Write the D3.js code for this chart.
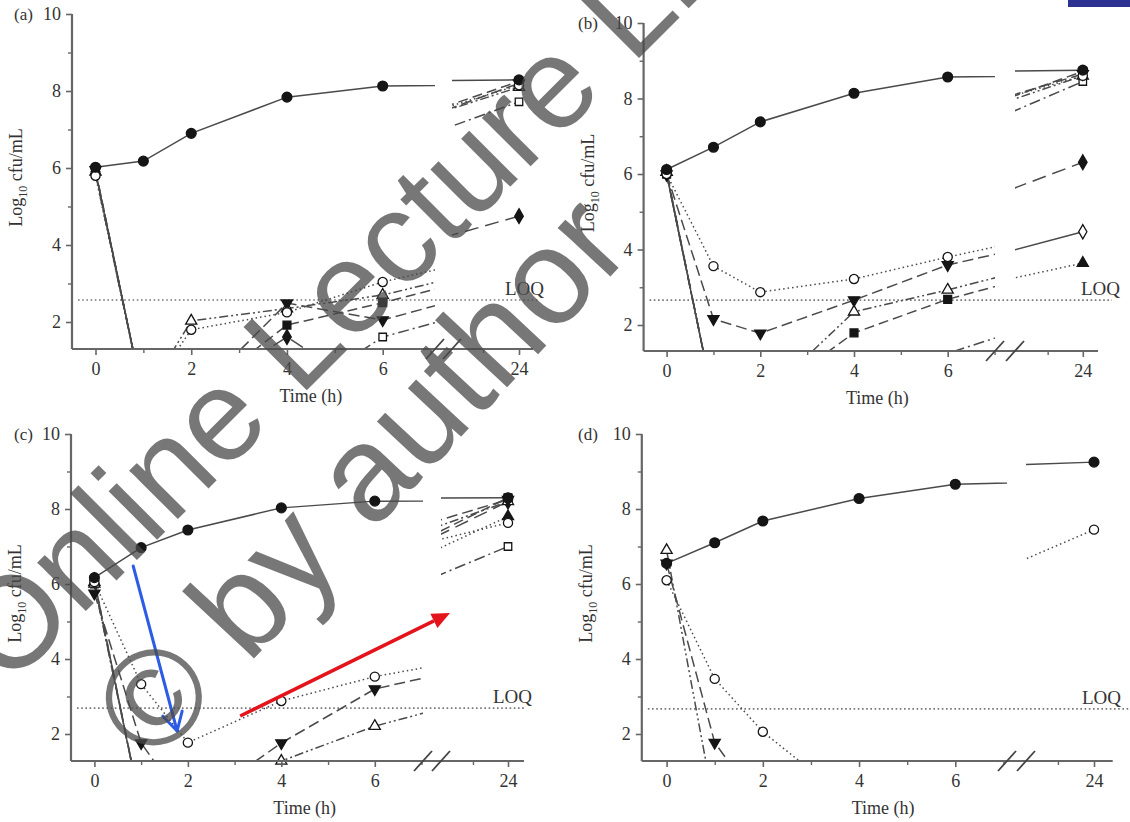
<!DOCTYPE html>
<html>
<head>
<meta charset="utf-8">
<script src="https://cdn.jsdelivr.net/npm/d3@7"></script>
<style>
  html, body { margin: 0; padding: 0; background: #fff; }
  svg { display: block; }
</style>
</head>
<body>
<svg id="chart" width="1130" height="822"></svg>
<script>
// Sampling times (h) and axis ticks
const hours = [0, 1, 2, 4, 6, 24];
const xTickHours = [0, 2, 4, 6];
const xTickHoursLate = [24];
const xMinorHours = [1, 3, 5, 7];
const xMinorHoursLate = [23];
const yTickValues = [2, 4, 6, 8, 10];
const yMinorValues = [3, 5, 7, 9];
const panelLabels = ["(a)", "(b)", "(c)", "(d)"];
const loqValues = [2.57, 2.66, 2.69, 2.67];

// Viable counts, log10 cfu/mL at each sampling time (0 = no count, below the plotted range)
// Panel (a)
const aGrowth      = [6.02, 6.18, 6.9, 7.84, 8.13, 8.29];
const aOpenCircle  = [5.8, 0, 1.8, 2.25, 3.04, 8.15];
const aDownTri     = [5.95, 0, 0, 2.49, 2.05, 8.2];
const aOpenTri     = [5.9, 0, 2.03, 2.35, 2.7, 8.1];
const aSquare      = [5.95, 0, 0, 1.92, 2.5, 8.25];
const aOpenSquare  = [5.85, 0, 0, 0, 1.61, 7.72];
const aDiamond     = [5.9, 0, 0, 1.61, 0, 4.75];
const aOpenDiamond = [5.9, 0, 0, 0, 0, 0];
// Panel (b)
const bGrowth      = [6.12, 6.71, 7.38, 8.14, 8.57, 8.75];
const bOpenCircle  = [6.0, 3.56, 2.87, 3.22, 3.8, 8.6];
const bDownTri     = [6.0, 2.16, 1.78, 2.66, 3.59, 8.65];
const bOpenTri     = [6.05, 0, 0, 2.35, 2.93, 8.6];
const bSquare      = [6.0, 0, 0, 1.79, 2.68, 8.72];
const bOpenSquare  = [6.0, 0, 0, 0, 1.25, 8.45];
const bDiamond     = [6.05, 0, 0, 0, 0, 6.31];
const bOpenDiamond = [6.0, 0, 0, 0, 0, 4.47];
const bUpTri       = [6.05, 0, 0, 0, 0, 3.64];
// Panel (c)
const cGrowth      = [6.17, 6.97, 7.44, 8.03, 8.21, 8.3];
const cOpenCircle  = [6.05, 3.33, 1.77, 2.88, 3.53, 7.63];
const cDownTri     = [5.75, 1.76, 0, 1.76, 3.2, 8.25];
const cOpenTri     = [6.0, 0, 0, 1.28, 2.21, 8.2];
const cSquare      = [6.1, 0, 0, 0, 0, 8.3];
const cOpenSquare  = [6.0, 0, 0, 0, 0, 7.0];
const cDiamond     = [6.1, 0, 0, 0, 0, 8.2];
const cUpTri       = [6.05, 0, 0, 0, 0, 7.8];
// Panel (d)
const dGrowth      = [6.55, 7.1, 7.68, 8.28, 8.66, 9.25];
const dOpenCircle  = [6.1, 3.47, 2.06, 0, 0, 7.45];
const dDownTri     = [6.55, 1.77, 0, 0, 0, 0];
const dOpenTri     = [6.9, 0, 0, 0, 0, 0];

// Which regimens appear in each panel
const panelSeries = [
  { growth: aGrowth, openCircle: aOpenCircle, downTri: aDownTri, openTri: aOpenTri, square: aSquare,
    openSquare: aOpenSquare, diamond: aDiamond, openDiamond: aOpenDiamond },
  { growth: bGrowth, openCircle: bOpenCircle, downTri: bDownTri, openTri: bOpenTri, square: bSquare,
    openSquare: bOpenSquare, diamond: bDiamond, openDiamond: bOpenDiamond, upTri: bUpTri },
  { growth: cGrowth, openCircle: cOpenCircle, downTri: cDownTri, openTri: cOpenTri, square: cSquare,
    openSquare: cOpenSquare, diamond: cDiamond, upTri: cUpTri },
  { growth: dGrowth, openCircle: dOpenCircle, downTri: dDownTri, openTri: dOpenTri }
];

// Marker and line style per regimen
const styles = {
  growth:      { shape: d3.symbolCircle,   size: 76, filled: true,  rot: 0,   dash: null },
  openCircle:  { shape: d3.symbolCircle,   size: 66, filled: false, rot: 0,   dash: "1.5,3" },
  downTri:     { shape: d3.symbolTriangle, size: 54, filled: true,  rot: 180, dash: "11,5" },
  openTri:     { shape: d3.symbolTriangle, size: 54, filled: false, rot: 0,   dash: "9,3,2,3,2,3" },
  square:      { shape: d3.symbolSquare,   size: 62, filled: true,  rot: 0,   dash: "10,5" },
  openSquare:  { shape: d3.symbolSquare,   size: 56, filled: false, rot: 0,   dash: "11,4,2,4" },
  diamond:     { shape: d3.symbolDiamond,  size: 64, filled: true,  rot: 0,   dash: "14,7" },
  openDiamond: { shape: d3.symbolDiamond,  size: 58, filled: false, rot: 0,   dash: null },
  upTri:       { shape: d3.symbolTriangle, size: 54, filled: true,  rot: 0,   dash: "1.5,3" }
};

// Panel frames (pixel geometry of each broken time axis)
const layout = [
  { axisX: 72,  x0: 95.5,  x6: 382.7, x24: 519,  seg1End: 435,  seg2Start: 452,  axisEnd: 533,
    y10: 14,  y2: 322, yBottom: 349, letterX: 14,  loqEnd: 540,  loqTextX: 505 },
  { axisX: 643.6, x0: 666.6, x6: 947.7, x24: 1082.8, seg1End: 995, seg2Start: 1015, axisEnd: 1098,
    y10: 23,  y2: 325, yBottom: 351, letterX: 578, loqEnd: 1112, loqTextX: 1081 },
  { axisX: 71,  x0: 94.4,  x6: 374.8, x24: 508,  seg1End: 423,  seg2Start: 441,  axisEnd: 524,
    y10: 434, y2: 734, yBottom: 761, letterX: 14,  loqEnd: 526,  loqTextX: 493 },
  { axisX: 641.8, x0: 666.6, x6: 955.3, x24: 1094, seg1End: 1007, seg2Start: 1026, axisEnd: 1112.7,
    y10: 434, y2: 734, yBottom: 761, letterX: 578, loqEnd: 1130, loqTextX: 1082 }
];

const serif = "'Liberation Serif', 'Times New Roman', Times, serif";
const axisColor = "#666";
const lineColor = "#4a4a4a";
const markColor = "#151515";

const svg = d3.select("#chart");
const defs = svg.append("defs");

const panelScales = [];

layout.forEach((L, i) => {
  const g = svg.append("g").attr("class", "panel");
  const y = d3.scaleLinear().domain([2, 10]).range([L.y2, L.y10]);
  const yMin = y.invert(L.yBottom);
  const x1 = d3.scaleLinear().domain([0, 6]).range([L.x0, L.x6]);
  const pxPerHourLate = (L.x6 - L.x0) / 6 * 0.75;
  const x2 = d3.scaleLinear().domain([23, 24]).range([L.x24 - pxPerHourLate, L.x24]);
  panelScales.push({ x1, x2, y });

  // clip regions for the two parts of the broken time axis
  const c1 = "clip-early-" + i, c2 = "clip-late-" + i;
  defs.append("clipPath").attr("id", c1).append("rect")
    .attr("x", L.axisX).attr("y", 0).attr("width", L.seg1End - L.axisX).attr("height", L.yBottom);
  defs.append("clipPath").attr("id", c2).append("rect")
    .attr("x", L.seg2Start).attr("y", 0).attr("width", L.axisEnd + 10 - L.seg2Start).attr("height", L.yBottom);

  // limit of quantification
  g.append("line")
    .attr("x1", L.axisX + 6).attr("x2", L.loqEnd)
    .attr("y1", y(loqValues[i])).attr("y2", y(loqValues[i]))
    .attr("stroke", "#777").attr("stroke-width", 1.6).attr("stroke-dasharray", "1.6,2.6");
  g.append("text")
    .attr("x", L.loqTextX).attr("y", y(loqValues[i]) - 5)
    .attr("font-family", serif).attr("font-size", 19).attr("fill", "#333")
    .text("LOQ");

  const series = Object.entries(panelSeries[i]).map(([key, vals]) => ({
    key, style: styles[key], points: hours.map((t, k) => ({ t, v: vals[k] }))
  }));

  // lines, drawn on each side of the axis break
  const lineEarly = d3.line().x(d => x1(d.t)).y(d => y(d.v));
  const lineLate = d3.line().x(d => x2(d.t)).y(d => y(d.v));
  [[lineEarly, c1], [lineLate, c2]].forEach(([gen, clip]) => {
    g.append("g").attr("clip-path", `url(#${clip})`)
      .selectAll("path").data(series.slice().reverse()).join("path")
      .attr("d", s => gen(s.points))
      .attr("fill", "none")
      .attr("stroke", lineColor)
      .attr("stroke-width", 1.5)
      .attr("stroke-dasharray", s => s.style.dash);
  });

  // markers (only counts inside the plotted range)
  const markG = g.append("g");
  series.slice().reverse().forEach(s => {
    const sym = d3.symbol().type(s.style.shape).size(s.style.size);
    markG.selectAll(null)
      .data(s.points.filter(p => p.v >= yMin))
      .join("path")
      .attr("d", sym)
      .attr("transform", p => {
        const px = p.t <= 7 ? x1(p.t) : x2(p.t);
        return `translate(${px},${y(p.v)}) rotate(${s.style.rot})`;
      })
      .attr("fill", s.style.filled ? markColor : "#fff")
      .attr("stroke", markColor)
      .attr("stroke-width", 1.3);
  });

  // y axis
  const yAxis = g.append("g").attr("transform", `translate(${L.axisX},0)`)
    .call(d3.axisLeft(y).tickValues(yTickValues).tickSize(6).tickPadding(5).tickFormat(d3.format("d")));
  yAxis.select(".domain").remove();
  yAxis.selectAll(".tick line").attr("stroke", axisColor).attr("stroke-width", 1.6);
  yAxis.selectAll(".tick text").attr("font-family", serif).attr("font-size", 18).attr("fill", "#333");
  const yMinorAxis = g.append("g").attr("transform", `translate(${L.axisX},0)`)
    .call(d3.axisLeft(y).tickValues(yMinorValues).tickSize(4).tickFormat(""));
  yMinorAxis.select(".domain").remove();
  yMinorAxis.selectAll(".tick line").attr("stroke", axisColor).attr("stroke-width", 1.4);

  // x axis, both sides of the break
  [[x1, xTickHours, xMinorHours], [x2, xTickHoursLate, xMinorHoursLate]].forEach(([xs, major, minor]) => {
    const ax = g.append("g").attr("transform", `translate(0,${L.yBottom})`)
      .call(d3.axisBottom(xs).tickValues(major).tickSize(6).tickPadding(7).tickFormat(d3.format("d")));
    ax.select(".domain").remove();
    ax.selectAll(".tick line").attr("stroke", axisColor).attr("stroke-width", 1.6);
    ax.selectAll(".tick text").attr("font-family", serif).attr("font-size", 18).attr("fill", "#333");
    const mx = g.append("g").attr("transform", `translate(0,${L.yBottom})`)
      .call(d3.axisBottom(xs).tickValues(minor).tickSize(4).tickFormat(""));
    mx.select(".domain").remove();
    mx.selectAll(".tick line").attr("stroke", axisColor).attr("stroke-width", 1.4);
  });

  // axis lines
  g.append("line").attr("x1", L.axisX).attr("x2", L.axisX).attr("y1", L.y10).attr("y2", L.yBottom)
    .attr("stroke", axisColor).attr("stroke-width", 2.2);
  g.append("line").attr("x1", L.axisX).attr("x2", L.axisEnd).attr("y1", L.yBottom).attr("y2", L.yBottom)
    .attr("stroke", axisColor).attr("stroke-width", 2.2);

  // break marks
  [L.seg1End, L.seg2Start].forEach(bx => {
    g.append("line")
      .attr("x1", bx - 9).attr("y1", L.yBottom + 10)
      .attr("x2", bx + 9).attr("y2", L.yBottom - 10)
      .attr("stroke", "#444").attr("stroke-width", 1.8);
  });

  // titles
  g.append("text")
    .attr("x", x1(4.5)).attr("y", L.yBottom + 53)
    .attr("text-anchor", "middle")
    .attr("font-family", serif).attr("font-size", 18).attr("fill", "#333")
    .text("Time (h)");

  const yl = g.append("text")
    .attr("transform", `translate(${L.axisX - 50},${(L.y10 + L.yBottom) / 2 - 4}) rotate(-90)`)
    .attr("text-anchor", "middle")
    .attr("font-family", serif).attr("font-size", 18).attr("fill", "#333");
  yl.append("tspan").text("Log");
  yl.append("tspan").attr("font-size", 12).attr("dy", 5).text("10");
  yl.append("tspan").attr("dy", -5).text(" cfu/mL");

  g.append("text")
    .attr("x", L.letterX).attr("y", L.y10 + 6)
    .attr("font-family", serif).attr("font-size", 17).attr("fill", "#333")
    .text(panelLabels[i]);
});

// Annotation arrows on panel (c)
const pc = panelScales[2];
const blueFrom = [pc.x1(0.83), pc.y(6.48)], blueTo = [pc.x1(1.77), pc.y(2.08)];
const redFrom = [pc.x1(3.12), pc.y(2.48)], redTo = [pc.x1(7.61), pc.y(5.23)];

function headPoints(from, to, len, half) {
  const dx = to[0] - from[0], dy = to[1] - from[1];
  const n = Math.hypot(dx, dy), ux = dx / n, uy = dy / n;
  const bx = to[0] - ux * len, by = to[1] - uy * len;
  return [[bx - uy * half, by + ux * half], to, [bx + uy * half, by - ux * half]];
}

const ann = svg.append("g");
ann.append("line")
  .attr("x1", blueFrom[0]).attr("y1", blueFrom[1]).attr("x2", blueTo[0]).attr("y2", blueTo[1])
  .attr("stroke", "#2c5ce6").attr("stroke-width", 3).attr("stroke-linecap", "round");
ann.append("path")
  .attr("d", d3.line()(headPoints(blueFrom, blueTo, 18, 10)))
  .attr("fill", "none").attr("stroke", "#2c5ce6").attr("stroke-width", 3)
  .attr("stroke-linecap", "round").attr("stroke-linejoin", "round");
const redHead = headPoints(redFrom, redTo, 18, 8);
ann.append("line")
  .attr("x1", redFrom[0]).attr("y1", redFrom[1])
  .attr("x2", (redHead[0][0] + redHead[2][0]) / 2).attr("y2", (redHead[0][1] + redHead[2][1]) / 2)
  .attr("stroke", "#e3141c").attr("stroke-width", 3.5);
ann.append("path").attr("d", d3.line()(redHead) + "Z").attr("fill", "#e3141c");

// Copyright overlay
const wm = svg.append("g")
  .attr("fill", "#4a4a4a").attr("fill-opacity", 0.75)
  .attr("font-family", "'Liberation Sans', Arial, sans-serif");
wm.append("text").attr("font-size", 130)
  .attr("transform", "translate(8,689) rotate(-45)").text("Online Lecture Library");
wm.append("text").attr("font-size", 136)
  .attr("transform", "translate(154,766) rotate(-47)").text("© by author");

// corner tab
svg.append("rect").attr("x", 1068).attr("y", 0).attr("width", 62).attr("height", 7).attr("fill", "#2c3192");
</script>
</body>
</html>
